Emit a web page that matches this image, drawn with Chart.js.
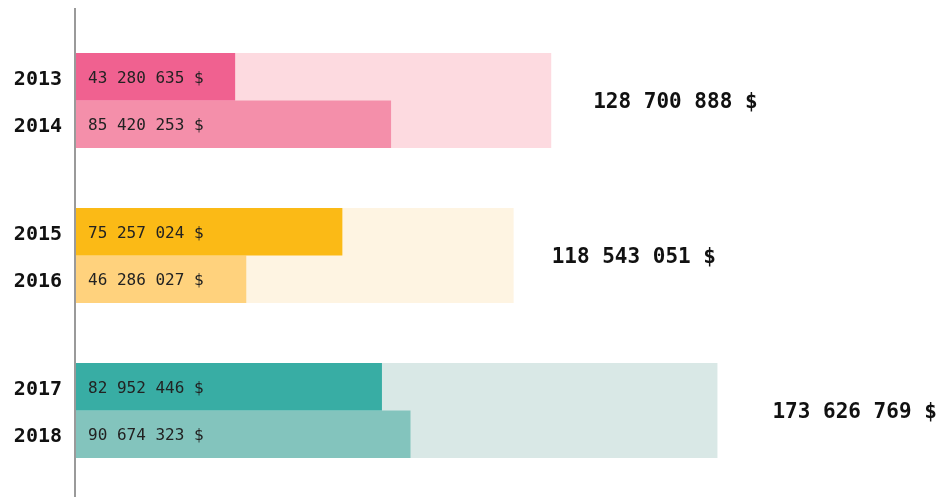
<!DOCTYPE html>
<html>
<head>
<meta charset="utf-8">
<script src="https://cdn.jsdelivr.net/npm/chart.js@4/dist/chart.umd.min.js"></script>
<style>
  html, body { margin: 0; padding: 0; background: #fff; }
  canvas { display: block; }
</style>
</head>
<body>
<canvas id="budgetChart" width="939" height="497"></canvas>
<script>
// 데이터
const groups = ['2013-2014', '2015-2016', '2017-2018'];
const firstYears = ['2013', '2015', '2017'];
const secondYears = ['2014', '2016', '2018'];
const firstValues = [43280635, 72257024, 82952446];
const secondValues = [85420253, 46286027, 90674323];
const firstValueLabels = ['43 280 635 $', '75 257 024 $', '82 952 446 $'];
const secondValueLabels = ['85 420 253 $', '46 286 027 $', '90 674 323 $'];
const totals = [128700888, 118543051, 173626769];

const firstColors = ['#f06190', '#fbba16', '#38ada4'];
const secondColors = ['#f48faa', '#ffd27d', '#83c4bd'];
const totalColors = ['#fddae0', '#fef4e2', '#d9e8e6'];
// 합계 라벨 간격 (막대 끝에서)
const totalGaps = [42, 38, 55];

function formatMoney(v) {
    return String(v).replace(/\B(?=(\d{3})+(?!\d))/g, ' ') + ' $';
}

// 라벨 + 축선 그리기
const labelPlugin = {
    id: 'labels',
    afterDatasetsDraw(chart) {
        const ctx = chart.ctx;
        const area = chart.chartArea;
        ctx.save();

        // 세로 축선
        ctx.fillStyle = '#9a9a9a';
        ctx.fillRect(area.left - 1, 8, 2, chart.height - 8);

        const mono = '"DejaVu Sans Mono", "Liberation Mono", monospace';
        const first = chart.getDatasetMeta(0).data;
        const second = chart.getDatasetMeta(1).data;
        const total = chart.getDatasetMeta(2).data;
        ctx.textBaseline = 'middle';

        groups.forEach(function(g, i) {
            // 연도
            ctx.fillStyle = '#111';
            ctx.font = 'bold 20px ' + mono;
            ctx.textAlign = 'right';
            ctx.fillText(firstYears[i], 62, first[i].y + 3);
            ctx.fillText(secondYears[i], 62, second[i].y + 3);

            // 값
            ctx.fillStyle = '#222';
            ctx.font = '16px ' + mono;
            ctx.textAlign = 'left';
            ctx.fillText(firstValueLabels[i], area.left + 13, first[i].y + 2);
            ctx.fillText(secondValueLabels[i], area.left + 13, second[i].y + 2);

            // 합계
            ctx.fillStyle = '#111';
            ctx.font = 'bold 21px ' + mono;
            ctx.fillText(formatMoney(totals[i]), total[i].x + totalGaps[i], total[i].y + 2);
        });
        ctx.restore();
    }
};

const chart = new Chart(document.getElementById('budgetChart'), {
    type: 'bar',
    data: {
        labels: groups,
        datasets: [
            {
                data: firstValues,
                backgroundColor: firstColors,
                order: 0,
                barPercentage: 1,
                categoryPercentage: 0.613
            },
            {
                data: secondValues,
                backgroundColor: secondColors,
                order: 1,
                barPercentage: 1,
                categoryPercentage: 0.613
            },
            {
                data: totals,
                backgroundColor: totalColors,
                order: 2,
                grouped: false,
                barPercentage: 1,
                categoryPercentage: 0.613
            }
        ]
    },
    options: {
        indexAxis: 'y',
        responsive: false,
        animation: false,
        layout: {
            padding: { left: 75, right: 0, top: 23, bottom: 9 }
        },
        plugins: {
            legend: { display: false },
            tooltip: { enabled: false }
        },
        scales: {
            x: { display: false, min: 0, max: 233500000 },
            y: { display: false }
        }
    },
    plugins: [labelPlugin]
});
</script>
</body>
</html>
